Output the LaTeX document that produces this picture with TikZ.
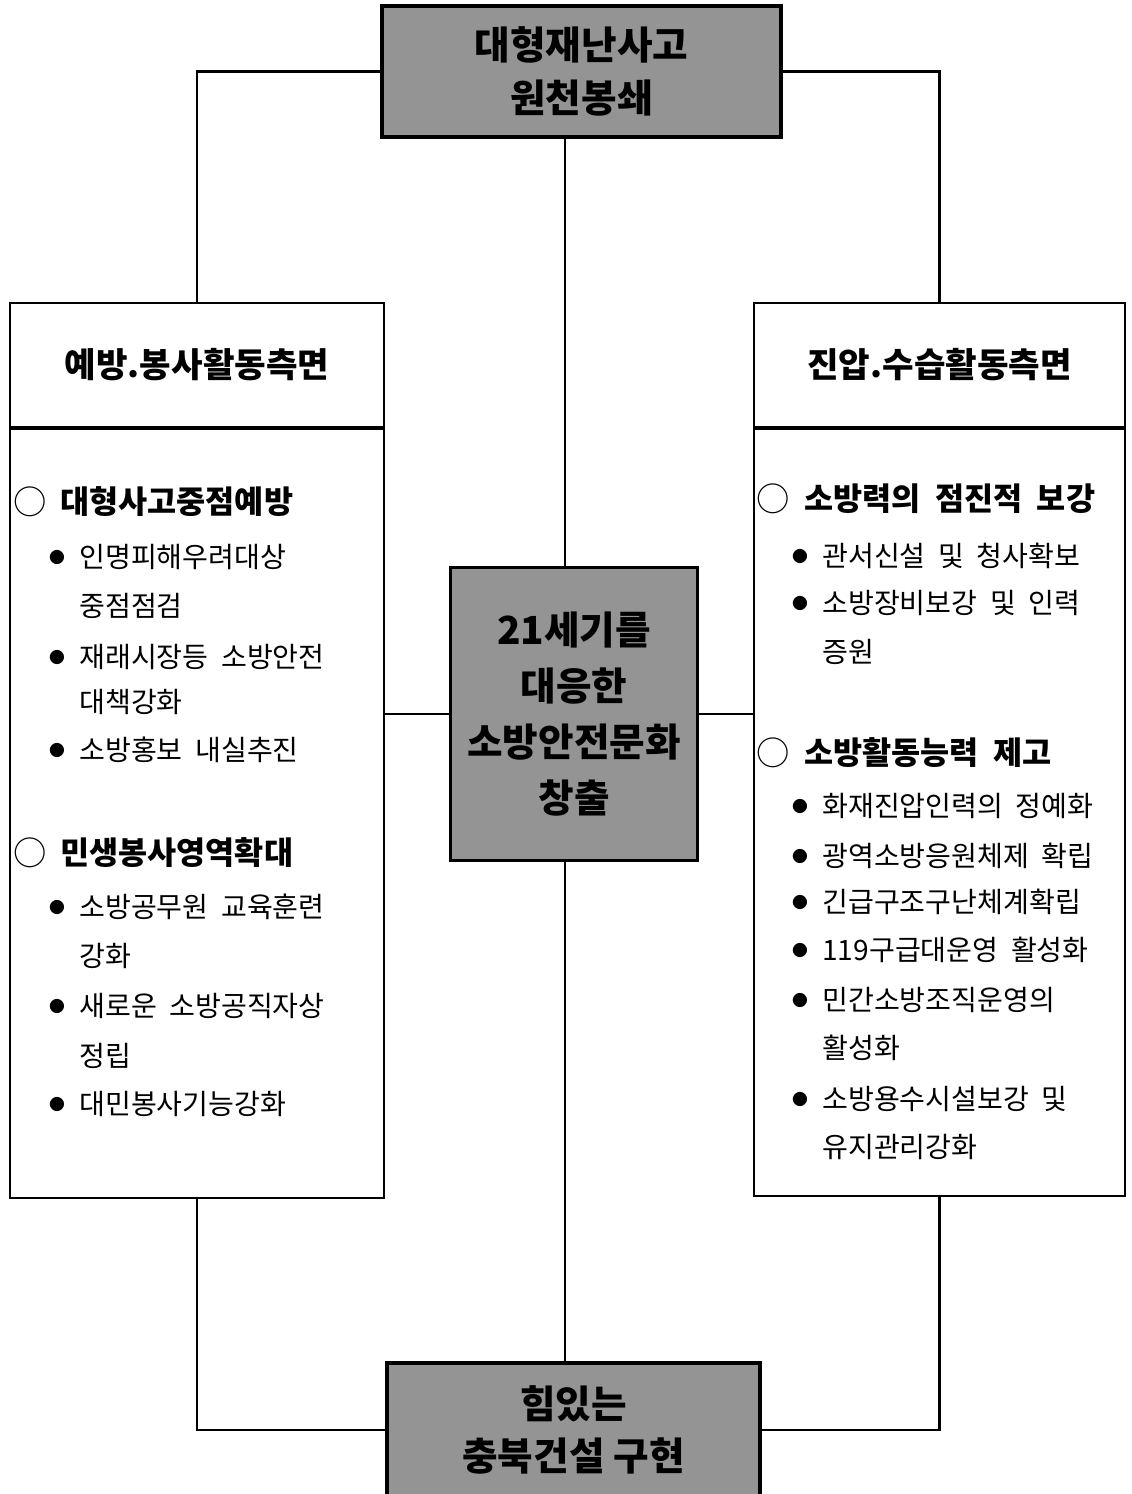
\documentclass[tikz,border=0pt]{standalone}
\usepackage{fontspec}
\setmainfont{Noto Sans CJK KR}
\usetikzlibrary{calc}

\begin{document}
\begin{tikzpicture}[x=0.02cm,y=-0.02cm,
                keybox/.style = {draw, line width=1.8pt, fill=black!42, align=center,
                                 font=\bfseries\fontsize{22}{30}\selectfont},
                sidebox/.style = {draw, line width=1.6pt},
                link/.style = {line width=1.2pt},
                headtext/.style = {font=\bfseries\fontsize{19.5}{22}\selectfont},
                ringmark/.style = {anchor=west, inner sep=0pt, font=\fontsize{19}{20}\selectfont},
                topic/.style = {anchor=west, inner sep=0pt, font=\bfseries\fontsize{18}{20}\selectfont},
                dotmark/.style = {inner sep=0pt, font=\fontsize{9}{12}\selectfont},
                itemtext/.style = {anchor=west, inner sep=0pt, font=\fontsize{16}{18}\selectfont}]
                \useasboundingbox (0,0) rectangle (1132,1494);
                \fill[white] (0,0) rectangle (1132,1494);
                \clip (0,0) rectangle (1132,1494);
                % main boxes
                \node[keybox, minimum width=7.98cm, minimum height=2.62cm] (tbox) at (581.5,71.5)
                    {대형재난사고\\원천봉쇄};
                \node[keybox, minimum width=4.94cm, minimum height=5.86cm,
                      font=\bfseries\fontsize{22}{32}\selectfont] (cbox) at (574,714)
                    {21세기를\\대응한\\소방안전문화\\창출};
                \node[keybox, minimum width=7.46cm, minimum height=2.68cm] (bbox) at (573.5,1430)
                    {힘있는\\충북건설 구현};
                \node[sidebox, minimum width=7.48cm, minimum height=2.48cm, headtext] (lhead) at (197,365)
                    {예방.봉사활동측면};
                \node[sidebox, minimum width=7.48cm, minimum height=15.42cm] (lbody) at (197,812.5) {};
                \node[sidebox, minimum width=7.42cm, minimum height=2.48cm, headtext] (rhead) at (939.5,365)
                    {진압.수습활동측면};
                \node[sidebox, minimum width=7.42cm, minimum height=15.38cm] (rbody) at (939.5,811.5) {};
                \draw[line width=2.2pt] (lhead.south west) -- (lhead.south east);
                \draw[line width=2.2pt] (rhead.south west) -- (rhead.south east);
                % connectors
                \coordinate (axis) at (565,0);
                \draw[link] (tbox.west) -| (lhead.north);
                \draw[link] (tbox.east) -| (rhead.north);
                \draw[link] (tbox.south -| axis) -- (cbox.north -| axis);
                \draw[link] (cbox.south -| axis) -- (bbox.north -| axis);
                \draw[link] (cbox.west) -- (cbox.west -| lbody.east);
                \draw[link] (cbox.east) -- (cbox.east -| rbody.west);
                \draw[link] (bbox.west) -| (lbody.south);
                \draw[link] (bbox.east) -| (rbody.south);
                % left column
                \foreach \y/\t [count=\i] in {502/대형사고중점예방, 853/민생봉사영역확대} {
                    \node[ringmark] (lm\i) at (13,\y) {○};
                    \node[topic] (lt\i) at (60,\y) {\t};
                }
                \foreach \y/\t [count=\i] in {557/인명피해우려대상, 657/재래시장등\ \ 소방안전,
                        750/소방홍보\ \ 내실추진, 907/소방공무원\ \ 교육훈련,
                        1006/새로운\ \ 소방공직자상, 1104/대민봉사기능강화} {
                    \node[dotmark] (lb\i) at (57,\y) {●};
                    \node[itemtext] (li\i) at (79,\y) {\t};
                }
                \foreach \y/\t [count=\i] in {606/중점점검, 702/대책강화, 956/강화, 1056/정립} {
                    \node[itemtext] (lc\i) at (79,\y) {\t};
                }
                % right column
                \foreach \y/\t [count=\i] in {499/소방력의\ \ 점진적\ \ 보강, 753/소방활동능력\ \ 제고} {
                    \node[ringmark] (rm\i) at (756,\y) {○};
                    \node[topic] (rt\i) at (804,\y) {\t};
                }
                \foreach \y/\t [count=\i] in {556/관서신설\ \ 및\ \ 청사확보, 603/소방장비보강\ \ 및\ \ 인력,
                        806/화재진압인력의\ \ 정예화, 856/광역소방응원체제\ \ 확립,
                        902/긴급구조구난체계확립, 950/119구급대운영\ \ 활성화,
                        1000/민간소방조직운영의, 1099/소방용수시설보강\ \ 및} {
                    \node[dotmark] (rb\i) at (800,\y) {●};
                    \node[itemtext] (ri\i) at (822,\y) {\t};
                }
                \foreach \y/\t [count=\i] in {652/증원, 1048/활성화, 1147/유지관리강화} {
                    \node[itemtext] (rc\i) at (822,\y) {\t};
                }
            \end{tikzpicture}
\end{document}
